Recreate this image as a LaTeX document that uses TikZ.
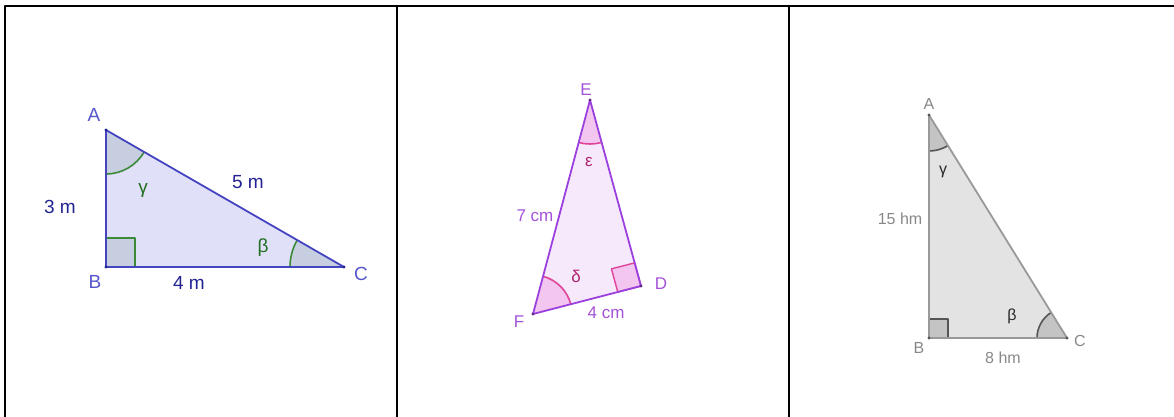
\documentclass[tikz,border=0pt]{standalone}
\usepackage{fontspec}
\setmainfont{Liberation Sans}
\usetikzlibrary{calc,angles}

\definecolor{blueLine}{HTML}{4444C0}
\definecolor{blueFill}{HTML}{E0E0F8}
\definecolor{blueAng}{HTML}{C6CEE0}
\definecolor{blueTxt}{HTML}{232392}
\definecolor{bluePt}{HTML}{5656CC}
\definecolor{greenArc}{HTML}{3A8A3A}
\definecolor{greenTxt}{HTML}{237023}
\definecolor{violLine}{HTML}{9B40DE}
\definecolor{violFill}{HTML}{F6E9FC}
\definecolor{pinkAng}{HTML}{F2C6EE}
\definecolor{pinkArc}{HTML}{E0449A}
\definecolor{pinkTxt}{HTML}{B0246E}
\definecolor{violTxt}{HTML}{A452D8}
\definecolor{greyLine}{HTML}{999999}
\definecolor{greyFill}{HTML}{E3E3E3}
\definecolor{greyAng}{HTML}{C4C4C4}
\definecolor{greyArc}{HTML}{555555}
\definecolor{greyTxt}{HTML}{888888}

\begin{document}
\begin{tikzpicture}[x=1pt, y=1pt, line join=round,
    frame/.style={line width=2pt, black},
    side/.style={line width=1.8pt},
    pt/.style={circle, fill=#1, inner sep=0pt, minimum size=3.4pt},
    angmark/.style={line width=1.6pt},
    big/.style={inner sep=0pt, font=\fontsize{19}{22}\selectfont},
    mid/.style={inner sep=0pt, font=\fontsize{17}{20}\selectfont},
    small/.style={inner sep=0pt, font=\fontsize{16}{19}\selectfont}]
  \useasboundingbox (0,0) rectangle (1174,-417);
  % ---------------- table frame ----------------
  \draw[frame] (5,-417) -- (5,-6) -- (1174,-6);
  \foreach \x in {397,789} {
     \draw[frame] (\x,-6) -- (\x,-417);
  }
  % ---------------- panel 1: triangle ABC, 3 m / 4 m / 5 m ----------------
  \coordinate (A1) at (106,-130); \coordinate (B1) at (106,-267); \coordinate (C1) at (344,-267);
  \fill[blueFill] (A1) -- (B1) -- (C1) -- cycle;
  \pic[draw=greenArc, fill=blueAng, angmark, angle radius=44pt] {angle=B1--A1--C1};
  \pic[draw=greenArc, fill=blueAng, angmark, angle radius=54pt] {angle=A1--C1--B1};
  \filldraw[fill=blueAng, draw=greenArc, line width=1.2pt] (B1) rectangle ++(29,29);
  \draw[side, blueLine] (A1) -- (B1) -- (C1) -- cycle;
  \foreach \p in {A1,B1,C1} { \node[pt=blueTxt] at (\p) {}; }
  \node[big, bluePt] (nA1) at (94,-115) {A};
  \node[big, bluePt] (nB1) at (95,-282) {B};
  \node[big, bluePt] (nC1) at (361,-274) {C};
  \node[big, blueTxt] (ab1) at (60,-207) {3 m};
  \node[big, blueTxt] (bc1) at (189,-283) {4 m};
  \node[big, blueTxt] (ac1) at (248,-182) {5 m};
  \node[big, greenTxt] (g1) at (143,-190) {γ};
  \node[big, greenTxt] (b1) at (263,-248) {β};
  % ---------------- panel 2: triangle DEF, 7 cm / 4 cm ----------------
  \coordinate (E) at (590,-100); \coordinate (F) at (533,-314); \coordinate (D) at (641,-286);
  \coordinate (d1) at ($(D)!24pt!(F)$); \coordinate (d2) at ($(D)!24pt!(E)$);
  \fill[violFill] (E) -- (F) -- (D) -- cycle;
  \pic[draw=pinkArc, fill=pinkAng, angmark, angle radius=44pt] {angle=F--E--D};
  \pic[draw=pinkArc, fill=pinkAng, angmark, angle radius=39pt] {angle=D--F--E};
  \filldraw[fill=pinkAng, draw=pinkArc, line width=1.4pt] (D) -- (d1) -- ($(d1)+(d2)-(D)$) -- (d2) -- cycle;
  \draw[side, violLine] (E) -- (F) -- (D) -- cycle;
  \foreach \p in {D,E,F} { \node[pt=violLine!60!black] at (\p) {}; }
  \node[mid, violTxt] (nE) at (586,-90) {E};
  \node[mid, violTxt] (nF) at (519,-322) {F};
  \node[mid, violTxt] (nD) at (661,-284) {D};
  \node[mid, violTxt] (ef) at (535,-216) {7 cm};
  \node[mid, violTxt] (fd) at (606,-313) {4 cm};
  \node[mid, pinkTxt] (eps) at (589,-162) {ε};
  \node[mid, pinkTxt] (del) at (576,-276) {δ};
  % ---------------- panel 3: triangle ABC, 15 hm / 8 hm ----------------
  \coordinate (A3) at (929,-115); \coordinate (B3) at (929,-338); \coordinate (C3) at (1067,-338);
  \fill[greyFill] (A3) -- (B3) -- (C3) -- cycle;
  \pic[draw=greyArc, fill=greyAng, angmark, angle radius=36pt] {angle=B3--A3--C3};
  \pic[draw=greyArc, fill=greyAng, angmark, angle radius=30pt] {angle=A3--C3--B3};
  \filldraw[fill=greyAng, draw=greyArc, line width=1.4pt] (B3) rectangle ++(19,19);
  \draw[side, greyLine] (A3) -- (B3) -- (C3) -- cycle;
  \foreach \p in {A3,B3,C3} { \node[pt=greyArc] at (\p) {}; }
  \node[small, greyTxt] (nA3) at (929,-104) {A};
  \node[small, greyTxt] (nB3) at (919,-348) {B};
  \node[small, greyTxt] (nC3) at (1080,-341) {C};
  \node[small, greyTxt] (ab3) at (900,-219) {15 hm};
  \node[small, greyTxt] (bc3) at (1003,-358) {8 hm};
  \node[small, black!85] (g3) at (943,-172) {γ};
  \node[small, black!85] (b3) at (1012,-316) {β};
\end{tikzpicture}
\end{document}
